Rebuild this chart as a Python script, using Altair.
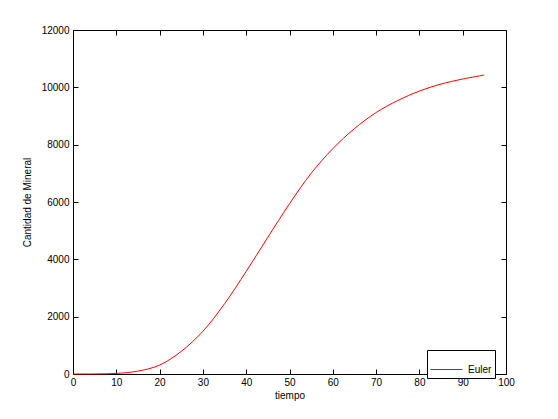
import altair as alt
import pandas as pd

tiempo = [0, 5, 10, 15, 20, 25, 30, 35, 40, 45, 50, 55, 60, 65, 70, 75, 80, 85, 90, 95]
mineral = [0, 2, 20, 100, 310, 790, 1490, 2450, 3580, 4770, 5940, 7000, 7860, 8560,
           9120, 9540, 9870, 10115, 10290, 10430]
serie = ["Euler"] * len(tiempo)

x_ticks = list(range(0, 101, 10))
y_ticks = list(range(0, 12001, 2000))

df = pd.DataFrame({"tiempo": tiempo, "mineral": mineral, "serie": serie})

FONT = "Liberation Sans"

base = alt.Chart(df)

line = base.mark_line(strokeWidth=1, interpolate="catmull-rom").encode(
    x=alt.X("tiempo:Q", scale=alt.Scale(domain=[0, 100], nice=False, zero=False),
            axis=alt.Axis(orient="bottom", values=x_ticks, tickSize=5, offset=-5,
                          labelPadding=3, labelFlush=False, title="tiempo",
                          titlePadding=3)),
    y=alt.Y("mineral:Q", scale=alt.Scale(domain=[0, 12000], nice=False),
            axis=alt.Axis(orient="left", values=y_ticks, tickSize=5, offset=-5,
                          labelPadding=4, labelFlush=False, format="d",
                          title="Cantidad de Mineral", titlePadding=9)),
    color=alt.Color("serie:N", scale=alt.Scale(range=["#ff0000"]),
                    legend=alt.Legend(title=None, orient="none", legendX=354, legendY=320,
                                      strokeColor="black", fillColor="white", padding=3,
                                      symbolType="stroke", symbolSize=1024,
                                      symbolStrokeWidth=1, labelOffset=5,
                                      labelFontSize=10, labelFont=FONT, cornerRadius=0)),
)

frame = base.mark_line(opacity=0).encode(
    x=alt.X("tiempo:Q", scale=alt.Scale(domain=[0, 100], nice=False, zero=False),
            axis=alt.Axis(orient="top", values=x_ticks, tickSize=5, offset=-5,
                          labels=False, title=None)),
    y=alt.Y("mineral:Q", scale=alt.Scale(domain=[0, 12000], nice=False),
            axis=alt.Axis(orient="right", values=y_ticks, tickSize=5, offset=-5,
                          labels=False, title=None)),
)

chart = alt.layer(line, frame).resolve_axis(x="independent", y="independent").properties(
    width=433, height=344, autosize="none",
    padding={"left": 65, "top": 22, "right": 44, "bottom": 30},
    background="white",
).configure_view(stroke="black", strokeWidth=1).configure_axis(
    domain=False, grid=False, tickColor="black", tickWidth=1,
    labelFont=FONT, labelFontSize=10, labelColor="black",
    titleFont=FONT, titleFontSize=10, titleFontWeight="normal", titleColor="black",
)

chart.save("out.html", embed_options={"renderer": "svg", "actions": False})
